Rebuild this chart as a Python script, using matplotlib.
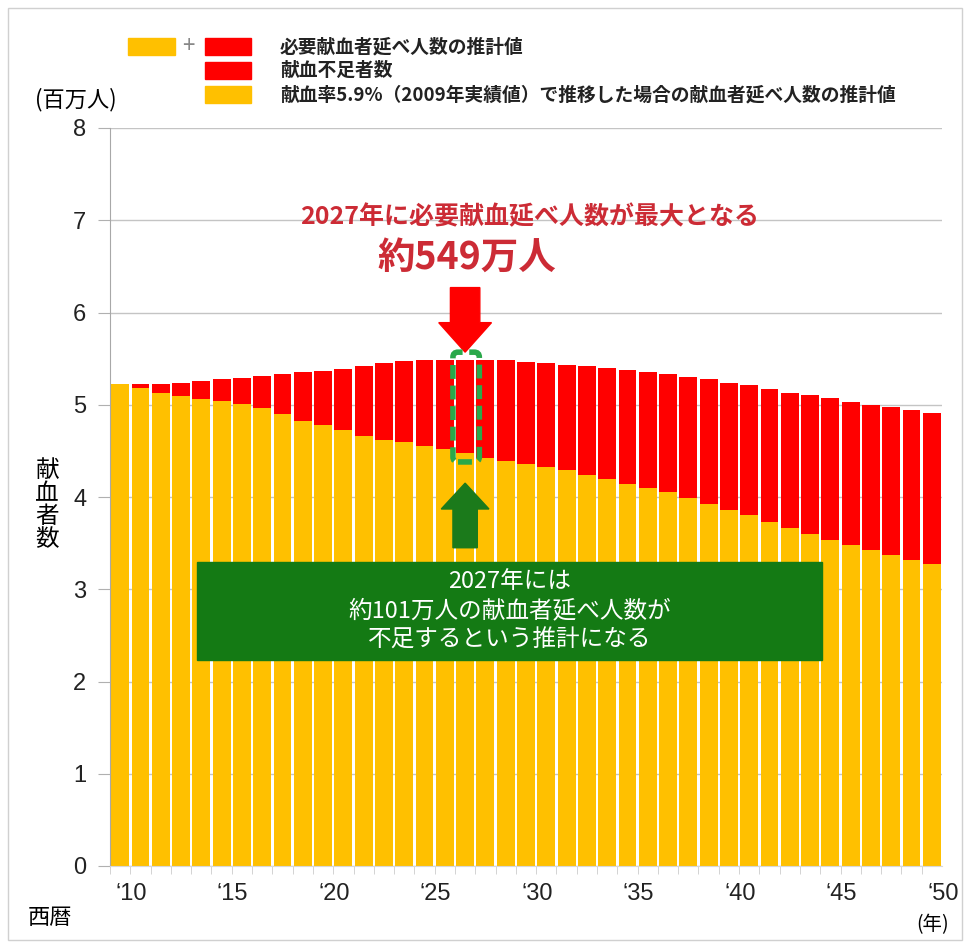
import matplotlib
matplotlib.use("Agg")
import matplotlib.pyplot as plt
from matplotlib.patches import Rectangle, FancyBboxPatch, FancyArrow
import matplotlib.transforms as mtransforms

plt.rcParams['font.family'] = ['Noto Sans CJK JP', 'DejaVu Sans']

# データ（百万人）
years = list(range(2010, 2051))
total = [5.23, 5.22, 5.22, 5.24, 5.26, 5.28, 5.29, 5.31, 5.33, 5.35,
         5.37, 5.39, 5.42, 5.45, 5.47, 5.485, 5.49, 5.49, 5.485, 5.48,
         5.46, 5.45, 5.43, 5.42, 5.40, 5.38, 5.36, 5.33, 5.30, 5.28,
         5.24, 5.21, 5.17, 5.13, 5.11, 5.07, 5.03, 5.00, 4.98, 4.94, 4.91]
donors = [5.23, 5.18, 5.13, 5.10, 5.06, 5.04, 5.01, 4.96, 4.90, 4.82,
          4.78, 4.73, 4.66, 4.62, 4.60, 4.55, 4.52, 4.48, 4.42, 4.39,
          4.36, 4.33, 4.29, 4.24, 4.20, 4.14, 4.10, 4.05, 3.99, 3.92,
          3.86, 3.80, 3.73, 3.66, 3.60, 3.53, 3.48, 3.43, 3.37, 3.32, 3.27]
shortage = [t - d for t, d in zip(total, donors)]
tick_years = [2010, 2015, 2020, 2025, 2030, 2035, 2040, 2045, 2050]
tick_labels = ['\u201810', '\u201815', '\u201820', '\u201825', '\u201830',
               '\u201835', '\u201840', '\u201845', '\u201850']

YELLOW = '#FFC000'
RED = '#FF0000'

W, H = 965, 943
fig = plt.figure(figsize=(W / 100, H / 100), dpi=100)

def fx(px):
    return px / W

def fy(py):
    return 1 - py / H

ax = fig.add_axes([fx(110), fy(866), 832 / W, 738 / H])

ax.bar(years, donors, width=0.88, color=YELLOW, zorder=2)
ax.bar(years, shortage, bottom=donors, width=0.88, color=RED, zorder=2)

ax.set_xlim(2009.5, 2050.5)
ax.set_ylim(0, 8)
ax.set_yticks(range(0, 9))
ax.yaxis.grid(True, color='#c4c4c4', lw=1)
ax.set_axisbelow(True)
for s in ['top', 'right']:
    ax.spines[s].set_visible(False)
ax.spines['left'].set_color('#a8a8a8')
ax.spines['bottom'].set_color('#d8d8d8')

ax.set_xticks(tick_years)
ax.set_xticklabels(tick_labels)
ax.set_xticks([y + 0.5 for y in range(2009, 2050)], minor=True)
ax.tick_params(axis='x', which='major', length=0, pad=12)
ax.tick_params(axis='x', which='minor', length=6, color='#cccccc')
ax.tick_params(axis='y', length=9, color='#b0b0b0', pad=8)
for lbl in ax.get_xticklabels() + ax.get_yticklabels():
    lbl.set_fontfamily(['Liberation Sans', 'DejaVu Sans'])
    lbl.set_fontsize(17)
    lbl.set_color('#222222')
offset = mtransforms.ScaledTranslation(11 / 100, 0, fig.dpi_scale_trans)
for lbl in ax.get_xticklabels():
    lbl.set_transform(lbl.get_transform() + offset)

# 2027年の注記
px_x = 832 / 41
px_y = 738 / 8
ax.add_patch(FancyArrow(2027, 6.27, 0, -0.70, width=1.45, head_width=2.6,
                        head_length=0.32, length_includes_head=True,
                        color=RED, zorder=4))
ax.add_patch(FancyBboxPatch((2026.4, 4.38), 1.3, 1.19,
                            boxstyle='round,pad=0,rounding_size=0.25',
                            mutation_aspect=px_x / px_y,
                            fill=False, ec='#2aa84a', lw=4,
                            ls=(0, (2.5, 1.2)), zorder=4))
ax.add_patch(FancyArrow(2027, 3.45, 0, 0.70, width=1.2, head_width=2.35,
                        head_length=0.28, length_includes_head=True,
                        color='#1b7a1b', zorder=4))
ax.add_patch(Rectangle((2013.8, 2.23), 30.8, 1.07, color='#147a14', zorder=4))
ax.text(2029.2, 2.765, '2027年には\n約101万人の献血者延べ人数が\n不足するという推計になる',
        ha='center', va='center', color='white', fontsize=17,
        linespacing=1.35, zorder=5)

ax.text(2030.2, 7.03, '2027年に必要献血延べ人数が最大となる', ha='center', va='center',
        color='#cc2b35', fontsize=18, fontweight='bold', zorder=5)
ax.text(2027.1, 6.6, '約549万人', ha='center', va='center',
        color='#cc2b35', fontsize=27, fontweight='bold', zorder=5)

# 軸ラベル
fig.text(fx(76), fy(100), '(百万人)', ha='center', va='center', fontsize=16)
fig.text(fx(47), fy(505), '献\n血\n者\n数', ha='center', va='center',
         fontsize=17, linespacing=1.0)
fig.text(fx(50), fy(918), '西暦', ha='center', va='center', fontsize=16)
fig.text(fx(933), fy(925), '(年)', ha='center', va='center', fontsize=14)

# 凡例
legend_rows = [
    (fy(55), RED, '必要献血者延べ人数の推計値'),
    (fy(79), RED, '献血不足者数'),
    (fy(103), YELLOW, '献血率5.9%（2009年実績値）で推移した場合の献血者延べ人数の推計値'),
]
fig.add_artist(Rectangle((fx(128), fy(55)), 47 / W, 17 / H, color=YELLOW,
                         transform=fig.transFigure))
fig.text(fx(188), fy(46), '+', ha='center', va='center', fontsize=16, color='#888888')
for y0, c, label in legend_rows:
    fig.add_artist(Rectangle((fx(205), y0), 46 / W, 17 / H, color=c,
                             transform=fig.transFigure))
    fig.text(fx(280), y0 + 8.5 / H, label, ha='left', va='center',
             fontsize=13.5, fontweight='bold', color='#222222')

# 外枠
fig.add_artist(Rectangle((fx(8), fy(940)), 954 / W, 932 / H, fill=False,
                         ec='#d0d0d0', lw=1, transform=fig.transFigure))

fig.savefig('out.png', dpi=100)
